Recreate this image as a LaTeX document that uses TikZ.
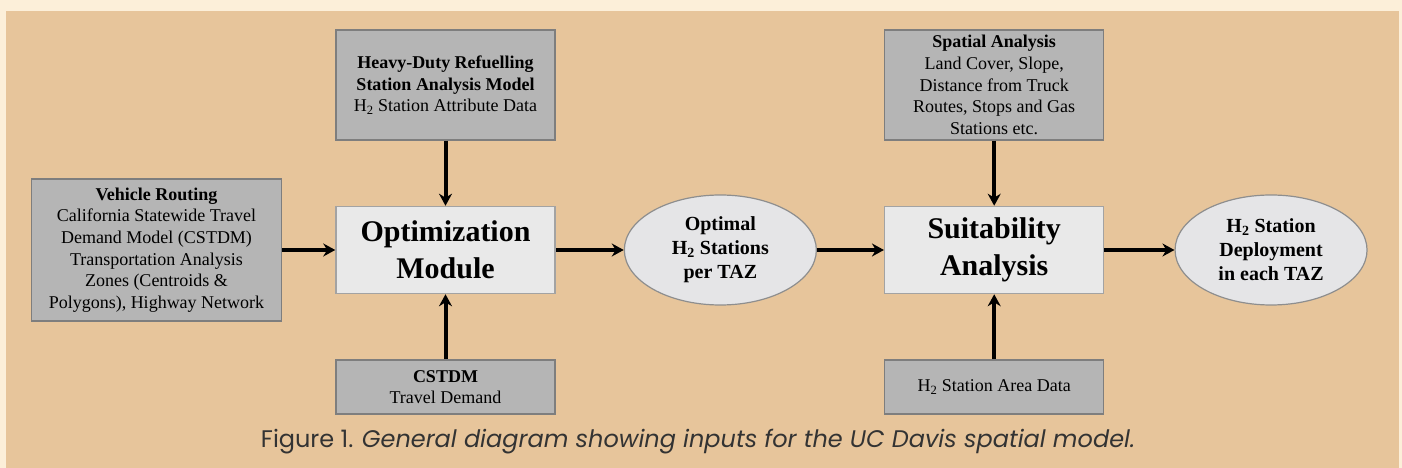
\documentclass[tikz,border=0pt]{standalone}
\usepackage{fontspec}
\setmainfont{Liberation Serif}
\newfontfamily\capfont{Poppins}
\usepackage{xcolor}
\usepackage{tikz}
\usetikzlibrary{positioning,shapes,arrows,arrows.meta}
\definecolor{cream}{HTML}{FCEFD9}
\definecolor{panel}{HTML}{E7C59B}
\definecolor{inbox}{HTML}{B5B5B5}
\definecolor{inedge}{HTML}{7E7E7E}
\definecolor{mainbox}{HTML}{E9E9E9}
\definecolor{mainedge}{HTML}{A3A3A3}
\definecolor{outfill}{HTML}{E5E5E7}
\definecolor{outedge}{HTML}{8E8E8E}
\definecolor{capgray}{HTML}{333333}
\tikzset{
    caption/.style={
        font=\capfont\fontsize{24}{28}\selectfont,
        text=capgray
    }
}
\tikzstyle{input} = [rectangle, minimum width=219pt, inner sep=2pt, text centered, align=center, draw=inedge, line width=1.5pt, fill=inbox, font=\fontsize{18}{21.7}\selectfont]
\tikzstyle{module} = [rectangle, minimum width=219pt, minimum height=87pt, text centered, align=center, draw=mainedge, line width=1.5pt, fill=mainbox, font=\bfseries\fontsize{30}{37}\selectfont]
\tikzstyle{result} = [ellipse, minimum width=192pt, minimum height=110pt, inner sep=1pt, text centered, align=center, draw=outedge, line width=1.2pt, fill=outfill, font=\bfseries\fontsize{20}{24}\selectfont]
\tikzstyle{arrow} = [line width=4pt, -{Stealth[length=12pt,width=13pt]}]

\begin{document}
\begin{tikzpicture}[x=1pt, y=1pt]
          \useasboundingbox (0,0) rectangle (1402,468);
          \fill[cream] (0,0) rectangle (1402,468);
          \fill[panel] (6,0) rectangle (1399,457);
          \node (opt) [module] at (445.5,218) {Optimization\\Module};
          \node (heavy) [input, minimum height=110pt, above=65pt of opt] {\textbf{Heavy-Duty Refuelling}\\\textbf{Station Analysis Model}\\H\textsubscript{2} Station Attribute Data};
          \node (cstdm) [input, minimum height=54pt, below=65pt of opt] {\textbf{CSTDM}\\Travel Demand};
          \node (vehicle) [input, minimum width=250pt, minimum height=142pt, left=53pt of opt] {\textbf{Vehicle Routing}\\California Statewide Travel\\Demand Model (CSTDM)\\Transportation Analysis\\Zones (Centroids \&\\Polygons), Highway Network};
          \node (optimal) [result, right=68pt of opt] {Optimal\\H\textsubscript{2} Stations\\per TAZ};
          \node (suit) [module, right=67pt of optimal] {Suitability\\Analysis};
          \node (spatial) [input, minimum height=110pt, above=65pt of suit] {\textbf{Spatial Analysis}\\Land Cover, Slope,\\Distance from Truck\\Routes, Stops and Gas\\Stations etc.};
          \node (area) [input, minimum height=54pt, below=65pt of suit] {H\textsubscript{2} Station Area Data};
          \node (deploy) [result, right=70pt of suit] {H\textsubscript{2} Station\\Deployment\\in each TAZ};
          \node (figcap) [caption] at (698,26) {Figure 1. \textit{General diagram showing inputs for the UC Davis spatial model.}};
          \draw [arrow] (vehicle) -- (opt);
          \draw [arrow] (heavy) -- (opt);
          \draw [arrow] (cstdm) -- (opt);
          \draw [arrow] (opt) -- (optimal);
          \draw [arrow] (optimal) -- (suit);
          \draw [arrow] (spatial) -- (suit);
          \draw [arrow] (area) -- (suit);
          \draw [arrow] (suit) -- (deploy);
        \end{tikzpicture}
\end{document}
